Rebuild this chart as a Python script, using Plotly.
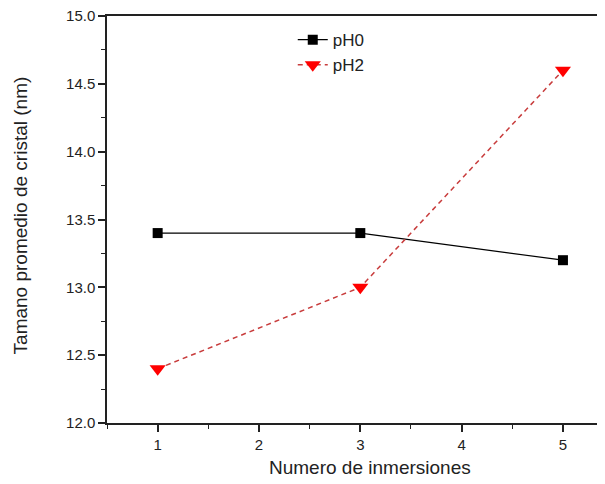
import plotly.graph_objects as go

x_vals = [1, 3, 5]
ph0 = [13.4, 13.4, 13.2]
ph2 = [12.4, 13.0, 14.6]
x_ticks = [1, 2, 3, 4, 5]
y_ticks = [12.0, 12.5, 13.0, 13.5, 14.0, 14.5, 15.0]

fig = go.Figure()
fig.add_trace(go.Scatter(
    x=x_vals, y=ph0, name="pH0", mode="lines+markers",
    line=dict(color="black", width=1.2),
    marker=dict(symbol="square", size=10, color="black"),
))
fig.add_trace(go.Scatter(
    x=x_vals, y=ph2, name="pH2", mode="lines+markers",
    line=dict(color="#c83c3c", width=1.5, dash="5px,4px"),
    marker=dict(symbol="triangle-down", size=14, color="#ff0000"),
))

font = "Liberation Sans, Arial, sans-serif"
fig.update_layout(
    width=597, height=476,
    margin=dict(l=99, r=0, t=8, b=61),
    paper_bgcolor="white", plot_bgcolor="white",
    font=dict(family=font, color="#222", size=15),
    showlegend=True,
    legend=dict(x=0.373, y=0.985, xanchor="left", yanchor="top",
                bgcolor="rgba(0,0,0,0)", font=dict(size=17, family=font),
                tracegroupgap=0),
    xaxis=dict(
        range=[0.5, 5.415], tickvals=x_ticks, ticktext=[str(v) for v in x_ticks],
        showgrid=False, zeroline=False, showline=True, linecolor="#222", linewidth=1.5,
        mirror=True, ticks="outside", ticklen=7, tickwidth=1.5, tickcolor="#222",
        minor=dict(dtick=0.5, tick0=0.5, ticks="outside", ticklen=4, tickwidth=1.2, tickcolor="#222", showgrid=False),
        tickfont=dict(size=15), ticklabeloverflow="allow",
    ),
    yaxis=dict(
        range=[12.0, 15.0], tickvals=y_ticks, ticktext=[f"{v:.1f}" for v in y_ticks],
        showgrid=False, zeroline=False, showline=True, linecolor="#222", linewidth=1.5,
        ticks="outside", ticklen=7, tickwidth=1.5, tickcolor="#222",
        minor=dict(dtick=0.25, tick0=12.0, ticks="outside", ticklen=4, tickwidth=1.2, tickcolor="#222", showgrid=False),
        tickfont=dict(size=15), ticklabeloverflow="allow",
    ),
    annotations=[
        dict(text="Numero de inmersiones", xref="paper", yref="paper",
             x=(370 - 107) / 498, y=0, yshift=-44, xanchor="center", yanchor="middle",
             showarrow=False, font=dict(size=19, family=font, color="#222")),
        dict(text="Tamano promedio de cristal (nm)", xref="paper", yref="paper",
             x=0, xshift=-(107 - 20), y=0.51, xanchor="center", yanchor="middle",
             textangle=-90, showarrow=False, font=dict(size=19, family=font, color="#222")),
    ],
)
fig.write_html("out.html")
